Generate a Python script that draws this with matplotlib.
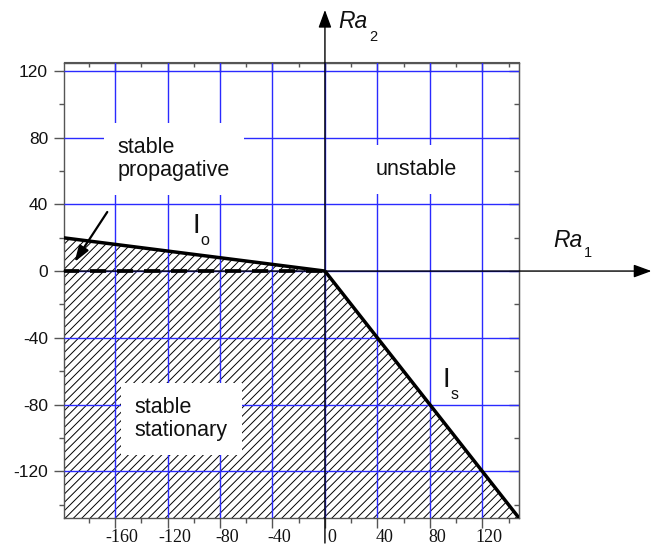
import matplotlib
matplotlib.use("Agg")
import matplotlib.pyplot as plt
from matplotlib.ticker import FixedLocator, NullFormatter

# ---- data ----
x_major = [-160, -120, -80, -40, 0, 40, 80, 120]
x_minor = [-180, -140, -100, -60, -20, 20, 60, 100, 140]
y_major = [-120, -80, -40, 0, 40, 80, 120]
y_minor = [-140, -100, -60, -20, 20, 60, 100]
x_labels = ["-160", "-120", "-80", "-40", "0", "40", "80", "120"]
y_labels = ["-120", "-80", "-40", "0", "40", "80", "120"]

# boundary I_o (oscillatory) and I_s (stationary)
io_x = [-200, 0]
io_y = [20, 0]
is_x = [0, 150]
is_y = [0, -150]
# dashed line Ra2 = 0 for Ra1 < 0
dash_x = [-200, 0]
dash_y = [0, 0]

xlim = (-199, 148)
ylim = (-148, 125)

plt.rcParams['hatch.linewidth'] = 0.7
fig = plt.figure(figsize=(6.57, 5.52), dpi=100)
ax = fig.add_axes([64/657, 1-518/552, (519-64)/657, (518-62.5)/552])
ax.set_xlim(*xlim)
ax.set_ylim(*ylim)

spine_col = '#555555'
for s in ax.spines.values():
    s.set_color(spine_col)
    s.set_linewidth(1.0)

# hatch region below boundary
hx = io_x + is_x[1:]
hy = io_y + is_y[1:]
ax.fill_between(hx, hy, -300, facecolor='none', edgecolor='black',
                hatch='////', linewidth=0, zorder=1)

# ticks & grid
ax.xaxis.set_major_locator(FixedLocator(x_major))
ax.yaxis.set_major_locator(FixedLocator(y_major))
ax.xaxis.set_minor_locator(FixedLocator(x_minor))
ax.yaxis.set_minor_locator(FixedLocator(y_minor))
ax.xaxis.set_major_formatter(NullFormatter())
ax.yaxis.set_major_formatter(NullFormatter())
ax.grid(True, which='major', color='#2a2aff', linewidth=1.0)
ax.set_axisbelow(False)
ax.tick_params(which='major', direction='out', length=7, width=1.0, color=spine_col)
ax.tick_params(which='minor', direction='out', length=3.5, width=1.0, color=spine_col)

# tick labels drawn as text
for v, s in zip(x_major, x_labels):
    ax.annotate(s, xy=(v, 0), xycoords=('data', 'axes fraction'),
                xytext=(7, -11), textcoords='offset pixels',
                ha='center', va='top', family='Liberation Serif',
                fontsize=13, color='#111111', annotation_clip=False)
for v, s in zip(y_major, y_labels):
    ax.annotate(s, xy=(0, v), xycoords=('axes fraction', 'data'),
                xytext=(-16, 0), textcoords='offset pixels',
                ha='right', va='center_baseline', family='Liberation Sans',
                fontsize=12.5, color='#111111', annotation_clip=False)

# top / right inward ticks
secx = ax.secondary_xaxis('top')
secx.set_xticks(x_major)
secx.xaxis.set_minor_locator(FixedLocator(x_minor))
secx.tick_params(which='major', direction='in', length=7, width=1.0, color=spine_col, labeltop=False)
secx.tick_params(which='minor', direction='in', length=3.5, width=1.0, color=spine_col)
secx.spines['top'].set_color(spine_col)
secy = ax.secondary_yaxis('right')
secy.set_yticks(y_major)
secy.yaxis.set_minor_locator(FixedLocator(y_minor))
secy.tick_params(which='major', direction='in', length=7, width=1.0, color=spine_col, labelright=False)
secy.tick_params(which='minor', direction='in', length=3.5, width=1.0, color=spine_col)
secy.spines['right'].set_color(spine_col)

# boundary lines
ax.plot(io_x, io_y, color='black', lw=2.5, zorder=5, solid_capstyle='butt')
ax.plot(is_x, is_y, color='black', lw=2.5, zorder=5, solid_capstyle='butt')
ax.plot(dash_x, dash_y, color='black', lw=2.7, dashes=(4.3, 2.9), zorder=5)

# coordinate axes with arrows
astyle = '-|>,head_length=0.6,head_width=0.22'
ax.annotate('', xy=(249, 0), xytext=(xlim[0], 0), xycoords='data',
            annotation_clip=False,
            arrowprops=dict(arrowstyle=astyle, color='black', lw=1.0,
                            mutation_scale=18, shrinkA=0, shrinkB=0), zorder=4)
ax.annotate('', xy=(0, 156.5), xytext=(0, -163), xycoords='data',
            annotation_clip=False,
            arrowprops=dict(arrowstyle=astyle, color='black', lw=1.0,
                            mutation_scale=18, shrinkA=0, shrinkB=0), zorder=4)

# pointer arrow for propagative region
ax.annotate('', xy=(-191, 5.4), xytext=(-166, 35.4), xycoords='data',
            arrowprops=dict(arrowstyle='-|>,head_length=0.6,head_width=0.2',
                            color='black', lw=1.6, mutation_scale=16,
                            shrinkA=0, shrinkB=0), zorder=6)

# region labels
box = dict(facecolor='white', edgecolor='none', boxstyle='square,pad=0.65')
tf = dict(family='Liberation Sans', fontsize=15.5, color='#111111')
ax.text(-158, 67, 'stable\npropagative', ha='left', va='center',
        linespacing=1.15, bbox=box, zorder=3, **tf)
ax.text(39, 57.6, 'unstable', ha='left', va='baseline', bbox=box, zorder=3, **tf)
ax.text(-145, -88.5, 'stable\nstationary', ha='left', va='center',
        linespacing=1.15, bbox=box, zorder=3, **tf)

# line labels
lf = dict(family='Liberation Sans', color='#111111')
ax.text(-101, 22.8, 'I', ha='left', va='baseline', fontsize=20, zorder=6, **lf)
ax.text(-95.2, 15.6, 'o', ha='left', va='baseline', fontsize=11.5, zorder=6, **lf)
ax.text(89.5, -69.6, 'I', ha='left', va='baseline', fontsize=20, zorder=6, **lf)
ax.text(95.6, -76.8, 's', ha='left', va='baseline', fontsize=11.5, zorder=6, **lf)

# axis names
ax.text(9.9, 145.8, 'Ra', ha='left', va='baseline', fontsize=16.5, style='italic',
        clip_on=False, **lf)
ax.text(33.5, 138, '2', ha='left', va='baseline', fontsize=10.5, clip_on=False, **lf)
ax.text(173.8, 14.4, 'Ra', ha='left', va='baseline', fontsize=16.5, style='italic',
        clip_on=False, **lf)
ax.text(197.3, 8.4, '1', ha='left', va='baseline', fontsize=10.5, clip_on=False, **lf)

fig.savefig('out.png', dpi=100)
